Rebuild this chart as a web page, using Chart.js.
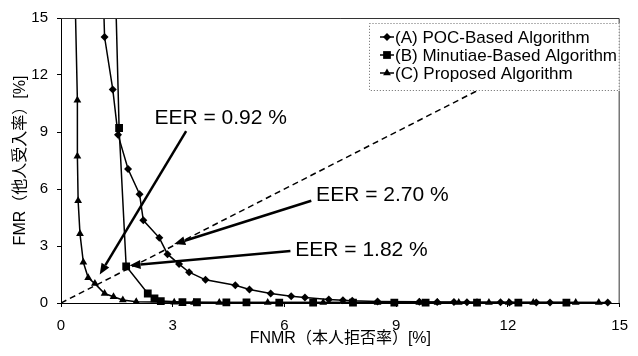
<!DOCTYPE html>
<html>
<head>
<meta charset="utf-8">
<script src="https://cdn.jsdelivr.net/npm/chart.js@4.4.1/dist/chart.umd.min.js"></script>
<style>
  html, body { margin: 0; padding: 0; background: #fff; }
  #wrap { width: 638px; height: 356px; }
</style>
</head>
<body>
<div id="wrap"><canvas id="chart" width="638" height="356"></canvas></div>
<script>
// axis ticks
const xTickValues = [0, 3, 6, 9, 12, 15];
const yTickValues = [0, 3, 6, 9, 12, 15];

// (A) POC-Based Algorithm
const pocX = [1.14, 1.17, 1.39, 1.53, 1.80, 2.11, 2.21, 2.64, 2.86, 3.17, 3.44, 3.88, 4.68, 5.06, 5.63, 6.18, 6.55, 7.19, 7.57, 7.82, 8.50, 9.62, 10.10, 10.55, 10.90, 11.17, 11.80, 12.04, 12.76, 13.13, 14.68];
const pocY = [16.0, 14.0, 11.24, 8.86, 7.05, 5.73, 4.35, 3.43, 2.57, 2.05, 1.62, 1.22, 0.93, 0.71, 0.50, 0.36, 0.29, 0.19, 0.15, 0.12, 0.08, 0.06, 0.05, 0.05, 0.04, 0.04, 0.04, 0.03, 0.03, 0.03, 0.03];

// (B) Minutiae-Based Algorithm
const minX = [1.47, 1.56, 1.75, 2.33, 2.51, 2.68, 3.26, 3.65, 4.44, 4.98, 5.86, 6.77, 7.84, 8.95, 9.79, 11.17, 12.28, 13.57];
const minY = [16.0, 9.21, 1.93, 0.50, 0.24, 0.10, 0.05, 0.04, 0.03, 0.03, 0.02, 0.02, 0.02, 0.02, 0.02, 0.02, 0.02, 0.02];

// (C) Proposed Algorithm
const propX = [0.38, 0.44, 0.44, 0.46, 0.51, 0.60, 0.73, 0.91, 1.17, 1.41, 1.66, 2.02, 3.04, 3.57, 4.25, 5.55, 7.04, 8.50, 9.62, 10.11, 10.68, 11.49, 12.02, 12.68, 13.82, 14.44];
const propY = [16.0, 10.67, 7.72, 5.38, 3.64, 2.14, 1.33, 1.02, 0.50, 0.33, 0.16, 0.07, 0.04, 0.03, 0.03, 0.02, 0.02, 0.02, 0.02, 0.02, 0.02, 0.02, 0.02, 0.02, 0.02, 0.02];

// FMR = FNMR reference line
const eqLineX = [0, 11.2];
const eqLineY = [0, 11.2];

// EER annotations (data units)
const eerLabels = ['EER = 0.92 %', 'EER = 2.70 %', 'EER = 1.82 %'];
const eerTextX = [2.51, 6.85, 6.29];
const eerTextY = [9.73, 5.69, 2.79];
const eerFromX = [3.36, 6.72, 6.16];
const eerFromY = [9.05, 5.38, 2.74];
const eerToX = [1.04, 3.04, 1.84];
const eerToY = [1.50, 3.10, 1.97];

const seriesLabels = ['(A) POC-Based Algorithm', '(B) Minutiae-Based Algorithm', '(C) Proposed Algorithm'];

const latin = '"Liberation Sans", Arial, "Noto Sans CJK JP", sans-serif';

function toPoints(xs, ys) {
    return xs.map((x, i) => ({x: x, y: ys[i]}));
}

function curve(label, xs, ys, style, radius) {
    return {
        label: label,
        data: toPoints(xs, ys),
        showLine: true,
        borderColor: '#000',
        backgroundColor: '#000',
        borderWidth: 1.5,
        pointStyle: style,
        pointRadius: radius,
        pointBorderWidth: 0,
        tension: 0,
        clip: {left: 6, right: 6, top: 0, bottom: 6}
    };
}

function drawMarker(ctx, style, x, y, r) {
    ctx.beginPath();
    if (style === 'rectRot') {
        ctx.moveTo(x, y - r); ctx.lineTo(x + r, y); ctx.lineTo(x, y + r); ctx.lineTo(x - r, y);
    } else if (style === 'rect') {
        const s = r * Math.SQRT1_2;
        ctx.rect(x - s, y - s, 2 * s, 2 * s);
    } else {
        ctx.moveTo(x, y - r); ctx.lineTo(x + r * 0.87, y + r * 0.5); ctx.lineTo(x - r * 0.87, y + r * 0.5);
    }
    ctx.closePath();
    ctx.fill();
}

function drawArrow(ctx, x1, y1, x2, y2) {
    const ang = Math.atan2(y2 - y1, x2 - x1);
    const head = 11, hw = 4.5;
    const bx = x2 - head * Math.cos(ang), by = y2 - head * Math.sin(ang);
    ctx.beginPath();
    ctx.moveTo(x1, y1);
    ctx.lineTo(bx, by);
    ctx.stroke();
    ctx.beginPath();
    ctx.moveTo(x2, y2);
    ctx.lineTo(bx + hw * Math.sin(ang), by - hw * Math.cos(ang));
    ctx.lineTo(bx - hw * Math.sin(ang), by + hw * Math.cos(ang));
    ctx.closePath();
    ctx.fill();
}

// frame, EER arrows + labels, legend box
const overlayPlugin = {
    id: 'overlay',
    afterDatasetsDraw(chart) {
        const {ctx, chartArea: a, scales: {x, y}} = chart;
        ctx.save();

        // top and right edges of the frame
        ctx.strokeStyle = '#333';
        ctx.lineWidth = 1;
        ctx.beginPath();
        ctx.moveTo(a.left, a.top + 0.5);
        ctx.lineTo(a.right - 0.5, a.top + 0.5);
        ctx.lineTo(a.right - 0.5, a.bottom);
        ctx.stroke();

        // arrows
        ctx.strokeStyle = '#000';
        ctx.fillStyle = '#000';
        ctx.lineWidth = 2.5;
        for (let i = 0; i < eerLabels.length; i++) {
            drawArrow(ctx,
                x.getPixelForValue(eerFromX[i]), y.getPixelForValue(eerFromY[i]),
                x.getPixelForValue(eerToX[i]), y.getPixelForValue(eerToY[i]));
        }

        // labels
        ctx.font = '21px ' + latin;
        ctx.textAlign = 'left';
        ctx.textBaseline = 'middle';
        for (let i = 0; i < eerLabels.length; i++) {
            ctx.fillText(eerLabels[i], x.getPixelForValue(eerTextX[i]), y.getPixelForValue(eerTextY[i]));
        }

        // legend
        const bx = 369, by = a.top + 5, bw = a.right - bx, bh = 68;
        ctx.fillStyle = '#fff';
        ctx.fillRect(bx, by, bw, bh);
        ctx.strokeStyle = '#666';
        ctx.lineWidth = 1;
        ctx.setLineDash([1, 2]);
        ctx.strokeRect(bx + 0.5, by + 0.5, bw - 1, bh - 1);
        ctx.setLineDash([]);
        ctx.fillStyle = '#000';
        ctx.strokeStyle = '#000';
        ctx.font = '17px ' + latin;
        const styles = ['rectRot', 'rect', 'triangle'];
        const radii = [4, 5.5, 4.5];
        for (let i = 0; i < seriesLabels.length; i++) {
            const ry = by + 14 + i * 18;
            ctx.lineWidth = 1.5;
            ctx.beginPath();
            ctx.moveTo(380, ry);
            ctx.lineTo(394, ry);
            ctx.stroke();
            drawMarker(ctx, styles[i], 387, ry, radii[i]);
            ctx.fillText(seriesLabels[i], 395, ry + 1);
        }
        ctx.restore();
    }
};

const tickFont = {family: latin, size: 15};
const titleFont = {family: latin, size: 16};

new Chart(document.getElementById('chart'), {
    type: 'scatter',
    data: {
        datasets: [
            curve(seriesLabels[0], pocX, pocY, 'rectRot', 4),
            curve(seriesLabels[1], minX, minY, 'rect', 5.5),
            curve(seriesLabels[2], propX, propY, 'triangle', 4.5),
            {
                label: 'FMR = FNMR',
                data: toPoints(eqLineX, eqLineY),
                showLine: true,
                borderColor: '#000',
                borderWidth: 1.5,
                borderDash: [6, 4],
                pointRadius: 0
            }
        ]
    },
    options: {
        responsive: false,
        animation: false,
        layout: {padding: {left: 7, right: 15, top: 13, bottom: 4}},
        plugins: {
            legend: {display: false},
            tooltip: {enabled: false}
        },
        scales: {
            x: {
                type: 'linear',
                min: 0,
                max: 15,
                afterBuildTicks: (s) => { s.ticks = xTickValues.map(v => ({value: v})); },
                afterFit: (s) => { s.height = 49; },
                grid: {display: true, drawOnChartArea: false, tickLength: 4, color: '#000'},
                border: {display: true, color: '#000', width: 1},
                ticks: {color: '#000', font: tickFont, padding: 10, maxRotation: 0},
                title: {display: true, text: 'FNMR（本人拒否率）[%]', color: '#000', font: titleFont, padding: {top: 4, bottom: 4}}
            },
            y: {
                type: 'linear',
                min: 0,
                max: 15,
                afterBuildTicks: (s) => { s.ticks = yTickValues.map(v => ({value: v})); },
                afterFit: (s) => { s.width = 54; },
                grid: {display: true, drawOnChartArea: false, tickLength: 4, color: '#000'},
                border: {display: true, color: '#000', width: 1},
                ticks: {color: '#000', font: tickFont, padding: 9},
                title: {display: true, text: 'FMR（他人受入率）[%]', color: '#000', font: titleFont, padding: {top: 4, bottom: 4}}
            }
        }
    },
    plugins: [overlayPlugin]
});
</script>
</body>
</html>
